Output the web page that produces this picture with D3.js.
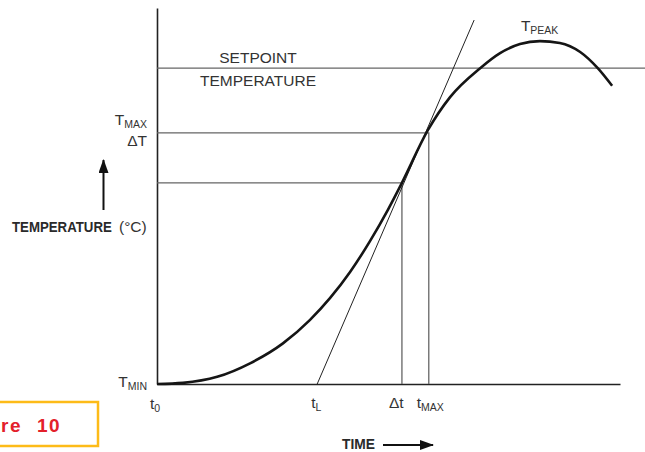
<!DOCTYPE html>
<html>
<head>
<meta charset="utf-8">
<script src="https://cdn.jsdelivr.net/npm/d3@7"></script>
<style>
  body { margin: 0; background: #fff; }
  .lbl { font-family: "Liberation Sans", Arial, sans-serif; font-size: 15.5px; fill: #333; }
  .sub { font-size: 10.5px; }
  .bold { font-family: "Liberation Sans", Arial, sans-serif; font-weight: bold; font-size: 15.5px; fill: #2a2a2a; }
  .ref { stroke: #666; stroke-width: 1.3; fill: none; }
  .axis path { stroke: #222; stroke-width: 1.6; }
</style>
</head>
<body>
<script>
const w = 645;
const h = 452;

// temperature curve (time and temperature in arbitrary units, 0..100)
const curveTime = [0, 5.6, 13.0, 20.1, 27.2, 33.0, 37.4, 41.7, 46.0, 49.9, 52.9, 58.5, 63.3, 69.8, 74.1, 78.4, 82.7, 87.0, 91.4, 95.2, 98.3];
const curveTemp = [0, 0.3, 1.9, 5.5, 10.8, 17.0, 22.9, 29.8, 38.0, 46.4, 53.5, 67.5, 76.3, 84.0, 88.0, 90.4, 91.2, 90.7, 88.3, 84.0, 79.3];

// tangent line through the inflection point
const tangentTime = [34.6, 68.5];
const tangentTemp = [0, 96.8];

// reference levels
const setpointTemp = 84.0;
const setpointEnd = 105.4;
const tMaxTemp = 66.8;
const tMaxTime = 58.7;
const dTTemp = 53.5;
const dtTime = 52.9;
const tLTime = 34.6;

const x = d3.scaleLinear().domain([0, 100]).range([157, 620]);
const y = d3.scaleLinear().domain([0, 100]).range([384, 8]);

const svg = d3.select("body").append("svg")
    .attr("width", w)
    .attr("height", h);

const defs = svg.append("defs");
defs.append("marker")
    .attr("id", "head")
    .attr("viewBox", "0 0 14 10")
    .attr("refX", 13)
    .attr("refY", 5)
    .attr("markerWidth", 14)
    .attr("markerHeight", 10)
    .attr("markerUnits", "userSpaceOnUse")
    .attr("orient", "auto")
    .append("path")
    .attr("d", "M0,0 L14,5 L0,10 Z")
    .attr("fill", "#111");

//axes
svg.append("g")
    .attr("class", "axis")
    .attr("transform", "translate(0," + y(0) + ")")
    .call(d3.axisBottom(x).ticks(0).tickSizeOuter(0));
svg.append("g")
    .attr("class", "axis")
    .attr("transform", "translate(" + x(0) + ",0)")
    .call(d3.axisLeft(y).ticks(0).tickSizeOuter(0));

//reference lines
svg.append("line").attr("class", "ref")
    .attr("x1", x(0)).attr("x2", x(setpointEnd))
    .attr("y1", y(setpointTemp)).attr("y2", y(setpointTemp));
svg.append("path").attr("class", "ref")
    .attr("d", d3.line()([[x(0), y(tMaxTemp)], [x(tMaxTime), y(tMaxTemp)], [x(tMaxTime), y(0)]]));
svg.append("path").attr("class", "ref")
    .attr("d", d3.line()([[x(0), y(dTTemp)], [x(dtTime), y(dTTemp)], [x(dtTime), y(0)]]));

//tangent
svg.append("line")
    .attr("x1", x(tangentTime[0])).attr("y1", y(tangentTemp[0]))
    .attr("x2", x(tangentTime[1])).attr("y2", y(tangentTemp[1]))
    .attr("stroke", "#222")
    .attr("stroke-width", 1);

//curve
const pts = curveTime.map((t, i) => [t, curveTemp[i]]);
svg.append("path")
    .attr("d", d3.line().x(d => x(d[0])).y(d => y(d[1])).curve(d3.curveMonotoneX)(pts))
    .attr("fill", "none")
    .attr("stroke", "#151515")
    .attr("stroke-width", 2.6)
    .attr("stroke-linecap", "butt");

//labels with subscripts
function label(px, py, main, sub, anchor) {
    const t = svg.append("text")
        .attr("class", "lbl")
        .attr("x", px)
        .attr("y", py)
        .attr("text-anchor", anchor || "start");
    t.append("tspan").text(main);
    if (sub) t.append("tspan").attr("class", "sub").attr("dy", 3).text(sub);
    return t;
}

svg.append("text").attr("class", "lbl").attr("x", 258).attr("y", y(setpointTemp) - 5)
    .attr("text-anchor", "middle").text("SETPOINT");
svg.append("text").attr("class", "lbl").attr("x", 258).attr("y", y(setpointTemp) + 18)
    .attr("text-anchor", "middle").text("TEMPERATURE");

label(x(0) - 10, y(tMaxTemp) - 8, "T", "MAX", "end");
label(x(0) - 10, y(tMaxTemp) + 13, "ΔT", null, "end");
label(x(0) - 10, y(0) + 3, "T", "MIN", "end");
label(x(82.7) - 19, y(91.2) - 10, "T", "PEAK");

label(x(0) - 7, y(0) + 25, "t", "0");
label(x(tLTime) - 6, y(0) + 24, "t", "L");
label(x(dtTime) - 13, y(0) + 24, "Δt");
label(x(tMaxTime) - 12, y(0) + 24, "t", "MAX");

//axis titles (bold squeezed to look condensed)
svg.append("g")
    .attr("transform", "translate(12,232) scale(0.855,1)")
    .append("text").attr("class", "bold")
    .text("TEMPERATURE");
svg.append("text").attr("class", "lbl").attr("x", 119).attr("y", 232)
    .text("(°C)");
svg.append("line")
    .attr("x1", 103.5).attr("y1", 210).attr("x2", 103.5).attr("y2", 160)
    .attr("stroke", "#111").attr("stroke-width", 2)
    .attr("marker-end", "url(#head)");

svg.append("g")
    .attr("transform", "translate(342,449) scale(0.89,1)")
    .append("text").attr("class", "bold")
    .text("TIME");
svg.append("line")
    .attr("x1", 383).attr("y1", 445).attr("x2", 433).attr("y2", 445)
    .attr("stroke", "#111").attr("stroke-width", 2)
    .attr("marker-end", "url(#head)");

//figure tag
svg.append("rect")
    .attr("x", -10).attr("y", 402).attr("width", 108).attr("height", 44)
    .attr("fill", "#fff").attr("stroke", "#fdbb18").attr("stroke-width", 2.5);
svg.append("text").attr("x", 22).attr("y", 432).attr("text-anchor", "end")
    .attr("fill", "#e3202a").style("font", "bold 19px 'Liberation Sans', Arial, sans-serif")
    .style("letter-spacing", "1.5px").text("Figure");
svg.append("text").attr("x", 37).attr("y", 432)
    .attr("fill", "#e3202a").style("font", "bold 19px 'Liberation Sans', Arial, sans-serif")
    .style("letter-spacing", "1.5px").text("10");
</script>
</body>
</html>
